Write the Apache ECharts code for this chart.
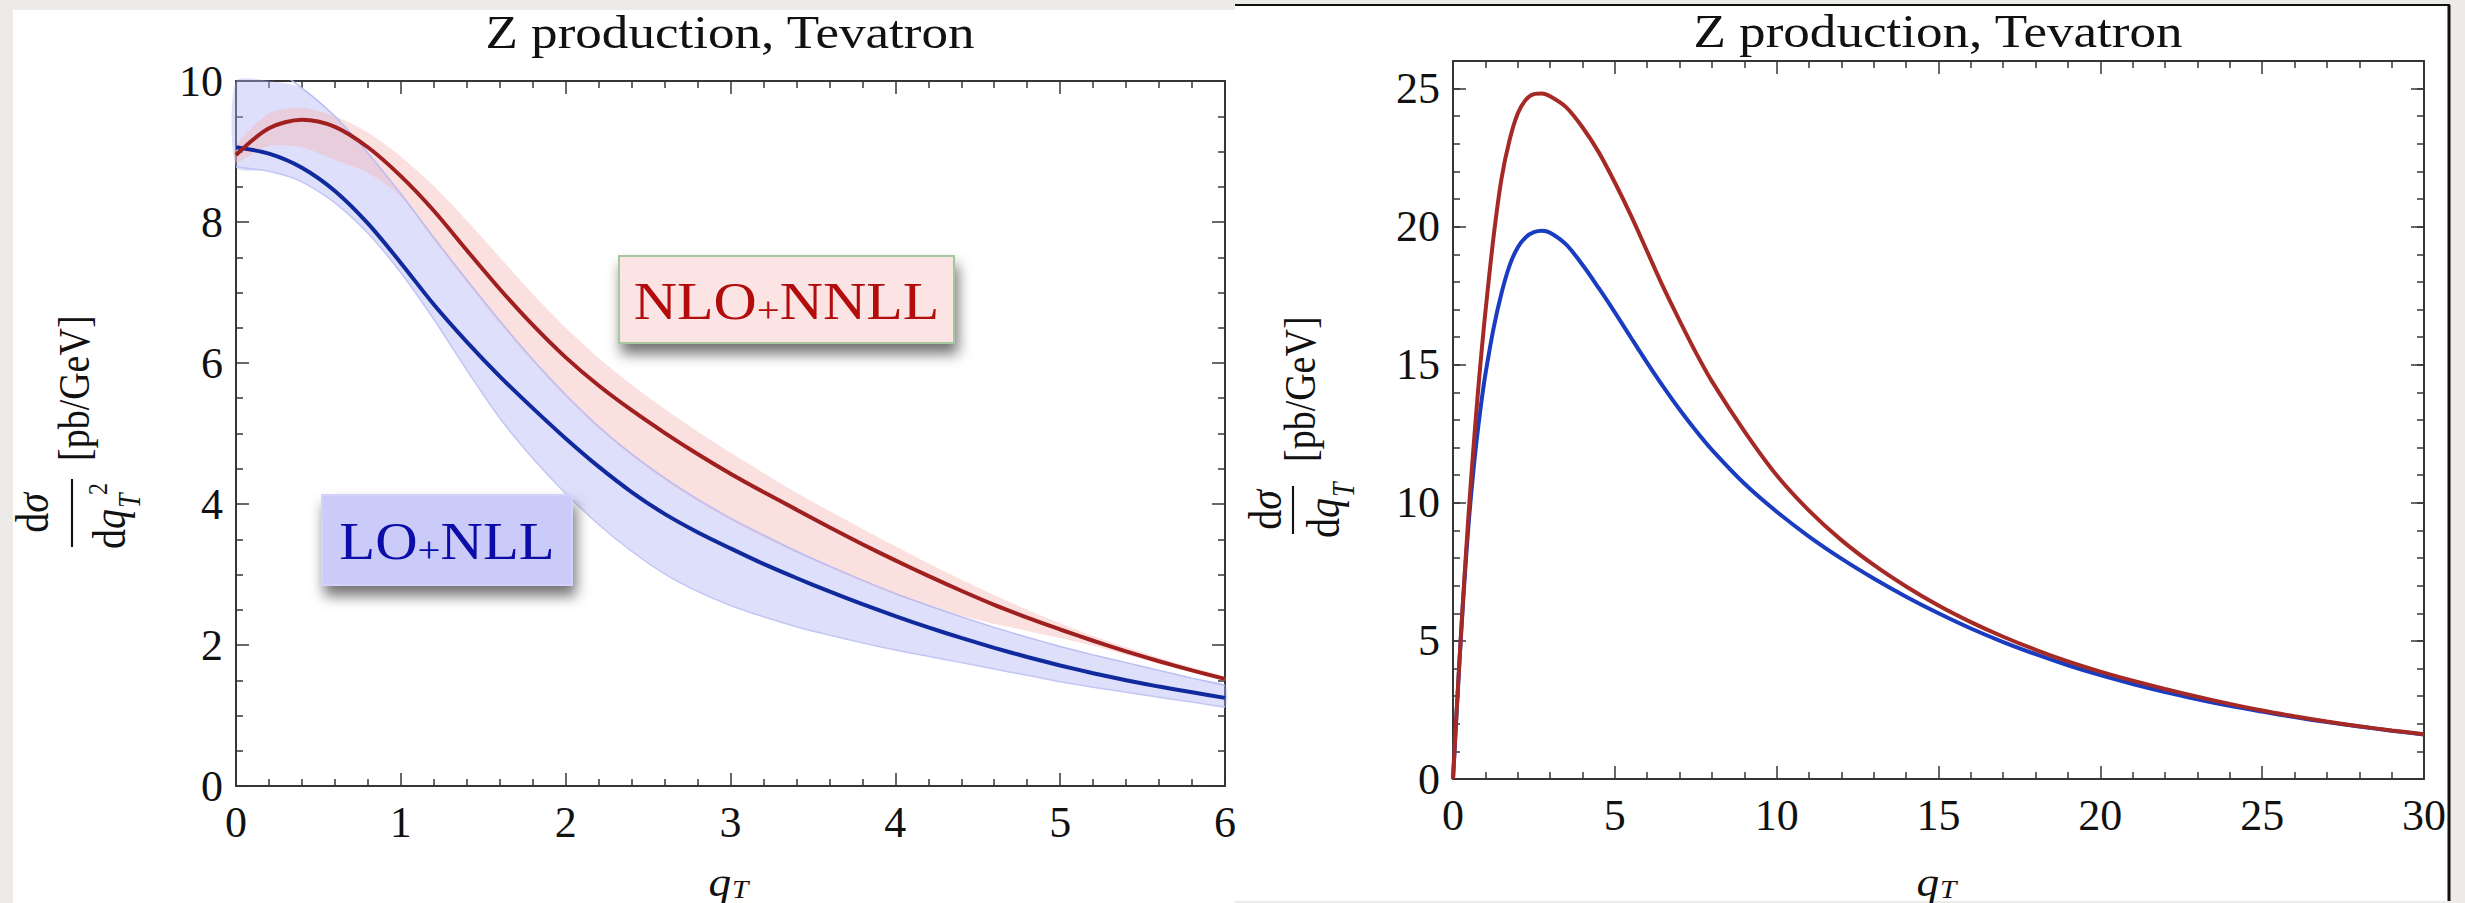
<!DOCTYPE html>
<html>
<head>
<meta charset="utf-8">
<script src="https://cdn.jsdelivr.net/npm/echarts@6/dist/echarts.min.js"></script>
<style>
html,body{margin:0;padding:0;background:#ecebe7;}
#chart{width:2465px;height:903px;}
</style>
</head>
<body>
<div id="chart"></div>
<script>
// ---------- Left panel: dσ/dq_T^2 [pb/GeV] vs q_T (0–6) ----------
const qLeft = [0,0.2,0.4,0.6,0.8,1.0,1.2,1.4,1.6,1.8,2.0,2.2,2.4,2.6,2.8,3.0,3.2,3.4,3.6,3.8,4.0,4.2,4.4,4.6,4.8,5.0,5.2,5.4,5.6,5.8,6.0];
const loNllLeft = [9.06,8.97,8.77,8.44,7.98,7.42,6.83,6.3,5.81,5.36,4.93,4.53,4.17,3.86,3.6,3.37,3.15,2.95,2.76,2.58,2.41,2.25,2.1,1.96,1.83,1.71,1.6,1.5,1.41,1.33,1.25];
const nloNnllLeft = [8.95,9.33,9.45,9.35,9.06,8.65,8.16,7.6,7.05,6.54,6.08,5.68,5.33,5.01,4.71,4.43,4.17,3.92,3.67,3.43,3.2,2.98,2.77,2.57,2.39,2.22,2.06,1.91,1.77,1.64,1.52];
const loBandHigh = [10.45,10.22,9.9,9.5,8.98,8.4,7.78,7.18,6.6,6.05,5.55,5.1,4.71,4.37,4.07,3.8,3.56,3.33,3.12,2.92,2.73,2.56,2.4,2.25,2.11,1.98,1.86,1.75,1.64,1.53,1.43];
const loBandLow = [8.78,8.72,8.57,8.27,7.84,7.28,6.62,5.9,5.22,4.65,4.15,3.71,3.33,3.01,2.76,2.56,2.4,2.26,2.14,2.03,1.93,1.84,1.75,1.66,1.57,1.48,1.4,1.33,1.26,1.19,1.12];
const nloBandHigh = [9.08,9.54,9.62,9.5,9.27,8.93,8.51,8.02,7.5,6.98,6.5,6.07,5.69,5.35,5.03,4.73,4.44,4.16,3.9,3.65,3.4,3.16,2.93,2.71,2.5,2.31,2.13,1.97,1.82,1.68,1.55];
const nloBandLow = [8.85,9.08,9.06,8.88,8.7,8.36,7.74,7.14,6.56,6.02,5.52,5.07,4.68,4.34,4.04,3.77,3.53,3.31,3.1,2.9,2.71,2.56,2.42,2.3,2.2,2.1,1.99,1.86,1.73,1.61,1.49];

// ---------- Right panel: dσ/dq_T [pb/GeV] vs q_T (0–30) ----------
const qRight = [0,0.1,0.2,0.3,0.4,0.5,0.6,0.7,0.8,0.9,1.0,1.25,1.5,1.75,2.0,2.25,2.5,2.75,3.0,3.5,4.0,4.5,5.0,5.5,6.0,6.5,7.0,7.5,8.0,9,10,11,12,13,14,15,16,17,18,19,20,21,22,23,24,25,26,27,28,29,30];
const nloNnllRight = [0,2.2,4.3,6.3,8.15,9.9,11.5,13.0,14.4,15.7,16.9,19.6,21.75,23.15,24.1,24.6,24.8,24.82,24.72,24.32,23.6,22.7,21.6,20.4,19.1,17.8,16.6,15.45,14.4,12.6,11.0,9.72,8.65,7.75,6.97,6.28,5.68,5.15,4.68,4.26,3.89,3.56,3.26,2.98,2.72,2.48,2.27,2.08,1.91,1.76,1.62];
const loNllRight = [0,2.15,4.25,6.2,7.95,9.5,10.8,11.95,12.95,13.85,14.65,16.3,17.6,18.6,19.25,19.62,19.8,19.85,19.78,19.35,18.62,17.78,16.9,15.98,15.07,14.2,13.38,12.62,11.92,10.7,9.68,8.78,7.98,7.26,6.6,6.0,5.45,4.96,4.52,4.12,3.76,3.44,3.15,2.89,2.65,2.44,2.24,2.06,1.9,1.75,1.61];

// ---------- Texts ----------
const titleText = 'Z production, Tevatron';
const legendNlo = ['NLO', '+', 'NNLL'];
const legendLo = ['LO', '+', 'NLL'];

// ---------- Styles ----------
const SERIF = "'Liberation Serif','Times New Roman',serif";
const FRAME = '#363636';
const STRETCH = 1.13;
const tickStyle = {color: FRAME, width: 1.5};

function pairs(xs, ys) { return xs.map((x, i) => [x, ys[i]]); }

function xAx(grid, pos, min, max, interval, minorSplit, showLabel) {
  return {
    type: 'value', gridIndex: grid, position: pos, min: min, max: max, interval: interval,
    axisLine: {show: true, onZero: false, lineStyle: {color: FRAME, width: 2}},
    axisTick: {show: true, inside: true, length: 13, lineStyle: tickStyle},
    minorTick: {show: true, splitNumber: minorSplit, length: 7, lineStyle: tickStyle},
    splitLine: {show: false}, minorSplitLine: {show: false},
    axisLabel: {show: showLabel, margin: 14, fontFamily: SERIF, fontSize: 44, color: '#111'}
  };
}
function yAx(grid, pos, min, max, interval, opts) {
  return {
    type: 'value', gridIndex: grid, position: pos, min: min, max: max, interval: interval,
    axisLine: {show: opts.line, onZero: false, lineStyle: {color: FRAME, width: 2}},
    axisTick: {show: true, inside: true, length: opts.tick, lineStyle: tickStyle},
    minorTick: {show: !!opts.minor, splitNumber: opts.minor || 5, length: 7, lineStyle: tickStyle},
    splitLine: {show: false}, minorSplitLine: {show: false},
    axisLabel: {show: !!opts.label, margin: 13, fontFamily: SERIF, fontSize: 44, color: '#111',
      formatter: opts.every ? (v => (v % opts.every === 0 ? String(v) : '')) : undefined}
  };
}

function lineSeries(name, xi, yi, xs, ys, color, width, smooth) {
  return {
    name: name, type: 'line', xAxisIndex: xi, yAxisIndex: yi, data: pairs(xs, ys),
    symbol: 'none', smooth: smooth, silent: true, clip: true,
    lineStyle: {color: color, width: width}
  };
}
function bandSeries(name, xi, yi, xs, lo, hi, color) {
  const data = xs.map((x, i) => [x, lo[i], hi[i]]);
  return {
    name: name, type: 'custom', xAxisIndex: xi, yAxisIndex: yi, silent: true, data: data,
    encode: {x: 0, y: [1, 2]},
    renderItem: function (params, api) {
      if (params.dataIndex !== 0) return null;
      const up = data.map(d => api.coord([d[0], d[2]]));
      const dn = data.map(d => api.coord([d[0], d[1]])).reverse();
      const cs = params.coordSys;
      const pts = echarts.graphic.clipPointsByRect(up.concat(dn), {x: cs.x, y: cs.y, width: cs.width, height: cs.height});
      return {type: 'polygon', shape: {points: pts, smooth: 0.25}, style: {fill: color}};
    }
  };
}

function legendBox(x, y, w, h, fill, stroke, parts, color, fs) {
  return [
    {type: 'rect', z: 100, shape: {x: x, y: y, width: w, height: h},
     style: {fill: fill, stroke: stroke, lineWidth: 2, shadowBlur: 14, shadowOffsetX: 3, shadowOffsetY: 10, shadowColor: 'rgba(0,0,0,0.55)'}},
    {type: 'text', z: 101, x: x + w / 2, y: y + h / 2 + 2, scaleX: STRETCH,
     style: {text: '{a|' + parts[0] + '}{b|' + parts[1] + '}{a|' + parts[2] + '}',
       align: 'center', verticalAlign: 'middle', fill: color,
       rich: {a: {fontFamily: SERIF, fontSize: fs, fill: color, color: color},
              b: {fontFamily: SERIF, fontSize: 36, fill: color, color: color, verticalAlign: 'bottom'}}}}
  ];
}

function yTitle(cx, cy, bar, sq, o) {
  const rich = {r: {fontFamily: SERIF, fontSize: 40}, i: {fontFamily: SERIF, fontSize: 40, fontStyle: 'italic'}};
  const ch = [
    {type: 'line', shape: {x1: -bar, y1: 0, x2: bar, y2: 0}, style: {stroke: '#111', lineWidth: 1.8}},
    {type: 'text', x: 0, y: o.numY, style: {text: '{r|d}{i|σ}', align: 'center', verticalAlign: 'bottom', fill: '#111', rich: rich}},
    {type: 'text', x: o.dqX, y: o.denY, style: {text: '{r|d}{i|q}', align: 'left', verticalAlign: 'top', fill: '#111', rich: rich}},
    {type: 'text', x: o.dqX + 41, y: o.tY, style: {text: 'T', fontFamily: SERIF, fontSize: 26, fontStyle: 'italic', align: 'left', verticalAlign: 'bottom', fill: '#111'}},
    {type: 'text', x: o.pbX, y: o.pbY, style: {text: '[pb/GeV]', fontFamily: SERIF, fontSize: 38, align: 'left', verticalAlign: 'middle', fill: '#111'}}
  ];
  if (sq) ch.push({type: 'text', x: o.dqX + 54, y: o.supY, style: {text: '2', fontFamily: SERIF, fontSize: 24, align: 'left', verticalAlign: 'bottom', fill: '#111'}});
  return {type: 'group', x: cx, y: cy, rotation: Math.PI / 2, scaleY: 1.18, z: 100, children: ch};
}

function xTitle(cx) {
  return [
    {type: 'text', z: 100, x: cx + 1, y: 902, scaleX: STRETCH, style: {text: 'q', fontFamily: SERIF, fontSize: 40, fontStyle: 'italic', align: 'right', verticalAlign: 'bottom', fill: '#111'}},
    {type: 'text', z: 100, x: cx + 2, y: 902, scaleX: STRETCH, style: {text: 'T', fontFamily: SERIF, fontSize: 26, fontStyle: 'italic', align: 'left', verticalAlign: 'bottom', fill: '#111'}}
  ];
}

const chart = echarts.init(document.getElementById('chart'), null, {renderer: 'svg', width: 2465, height: 903});

const option = {
  animation: false,
  backgroundColor: '#ecebe7',
  grid: [
    {left: 236, top: 81, width: 989, height: 705, containLabel: false},
    {left: 1453, top: 61, width: 971, height: 718, containLabel: false}
  ],
  xAxis: [
    xAx(0, 'bottom', 0, 6, 1, 5, true),
    xAx(0, 'top', 0, 6, 1, 5, false),
    xAx(1, 'bottom', 0, 30, 5, 5, true),
    xAx(1, 'top', 0, 30, 5, 5, false)
  ],
  yAxis: [
    yAx(0, 'left', 0, 10, 2, {line: true, tick: 13, minor: 4, label: true}),
    yAx(0, 'right', 0, 10, 2, {line: true, tick: 13, minor: 4, label: false}),
    yAx(1, 'left', 0, 26, 1, {line: true, tick: 7, label: true, every: 5}),
    yAx(1, 'left', 0, 26, 5, {line: false, tick: 13, label: false}),
    yAx(1, 'right', 0, 26, 1, {line: true, tick: 7, label: false}),
    yAx(1, 'right', 0, 26, 5, {line: false, tick: 13, label: false})
  ],
  series: [
    bandSeries('LO+NLL band', 0, 0, qLeft, loBandLow, loBandHigh, 'rgba(176,178,243,0.42)'),
    bandSeries('NLO+NNLL band', 0, 0, qLeft, nloBandLow, nloBandHigh, 'rgba(245,180,180,0.42)'),
    lineSeries('LO+NLL band high', 0, 0, qLeft, loBandHigh, '#b9bdf3', 1.5, 0.25),
    lineSeries('LO+NLL band low', 0, 0, qLeft, loBandLow, '#c3c6f5', 1.5, 0.25),
    lineSeries('LO+NLL', 0, 0, qLeft, loNllLeft, '#10299c', 4, 0.3),
    lineSeries('NLO+NNLL', 0, 0, qLeft, nloNnllLeft, '#a01f1f', 4, 0.3),
    lineSeries('LO+NLL (dσ/dqT)', 2, 2, qRight, loNllRight, '#1a3cc0', 4, 0.3),
    lineSeries('NLO+NNLL (dσ/dqT)', 2, 2, qRight, nloNnllRight, '#a52a26', 4, 0.3)
  ],
  graphic: {elements: [
    {type: 'rect', z: -10, shape: {x: 13, y: 10, width: 1222, height: 893}, style: {fill: '#ffffff'}},
    {type: 'rect', z: -10, shape: {x: 1235, y: 6, width: 1214, height: 895}, style: {fill: '#ffffff'}},
    {type: 'line', z: -5, shape: {x1: 1235, y1: 5, x2: 2450, y2: 5}, style: {stroke: '#111', lineWidth: 2}},
    {type: 'line', z: -5, shape: {x1: 2449, y1: 5, x2: 2449, y2: 901}, style: {stroke: '#111', lineWidth: 3}},
    {type: 'text', z: 100, x: 730, y: 56, scaleX: STRETCH, style: {text: titleText, fontFamily: SERIF, fontSize: 47, align: 'center', verticalAlign: 'bottom', fill: '#111'}},
    {type: 'text', z: 100, x: 1938, y: 55, scaleX: STRETCH, style: {text: titleText, fontFamily: SERIF, fontSize: 47, align: 'center', verticalAlign: 'bottom', fill: '#111'}},
    yTitle(72, 513, 34, true, {numY: -14, dqX: -36, denY: 11, tY: 62, supY: 34, pbX: 52, pbY: 2}),
    yTitle(1293, 510, 24, false, {numY: -4, dqX: -28, denY: 5, tY: 56, supY: 0, pbX: 48, pbY: 6}),
    ...xTitle(730),
    ...xTitle(1938),
    ...legendBox(619, 256, 335, 87, '#fde4e4', '#a6c89e', legendNlo, '#b30c0c', 53),
    ...legendBox(322, 495, 250, 90, '#cbcbf9', '#d2d2fa', legendLo, '#0c0ca8', 52)
  ]}
};
chart.setOption(option);
</script>
</body>
</html>
